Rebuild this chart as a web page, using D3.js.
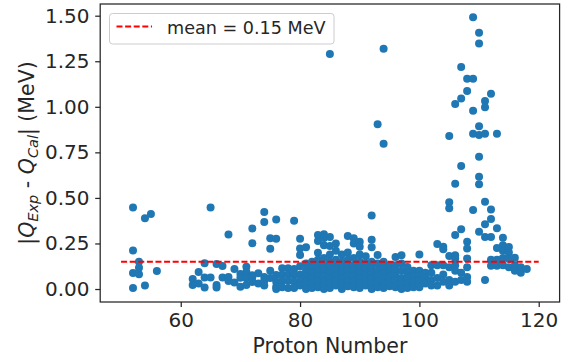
<!DOCTYPE html>
<html>
<head>
<meta charset="utf-8">
<script src="https://cdn.jsdelivr.net/npm/d3@7"></script>
<style>
  html, body { margin: 0; padding: 0; background: #ffffff; }
  svg { display: block; font-family: "DejaVu Sans", sans-serif; }
</style>
</head>
<body>
<svg id="chart" width="576" height="362"></svg>
<script>
// ---- data ----
const protonNumbers = [52,53,54,55,56,62,63,64,65,66,67,68,69,70,71,72,73,74,75,76,77,78,79,80,81,82,83,84,85,86,87,88,89,90,91,92,93,94,95,96,97,98,99,100,101,102,103,104,105,106,107,108,109,110,111,112,113,114,115,116,117,118];
const deviations = [
  [0.448, 0.212, 0.088, 0.005],
  [0.150, 0.117, 0.081],
  [0.388, 0.020],
  [0.412],
  [0.099],
  [0.055, 0.022],
  [0.093, 0.030],
  [0.142, 0.063, 0.008],
  [0.447, 0.063],
  [0.137, 0.022, 0.009],
  [0.127, 0.063],
  [0.299, 0.066, 0.044],
  [0.110, 0.036],
  [0.082, 0.062, 0.013],
  [0.122, 0.093, 0.059, 0.022],
  [0.332, 0.251, 0.075, 0.063, 0.038],
  [0.086, 0.030],
  [0.423, 0.368, 0.066, 0.045, 0.020],
  [0.278, 0.221, 0.100, 0.060],
  [0.382, 0.276, 0.077, 0.040, 0.013, 0.000],
  [0.114, 0.078, 0.045, 0.010],
  [0.114, 0.080, 0.045, 0.005],
  [0.375, 0.110, 0.075, 0.040, 0.005],
  [0.276, 0.222, 0.187, 0.125, 0.080, 0.045, 0.020],
  [0.229, 0.140, 0.100, 0.070, 0.040, 0.020, 0.000],
  [0.150, 0.120, 0.090, 0.060, 0.030, 0.005],
  [0.296, 0.263, 0.199, 0.160, 0.130, 0.100, 0.070, 0.040, 0.010],
  [0.300, 0.280, 0.240, 0.170, 0.130, 0.100, 0.070, 0.040, 0.020, 0.000],
  [1.290, 0.285, 0.236, 0.190, 0.150, 0.120, 0.090, 0.060, 0.030, 0.005],
  [0.250, 0.210, 0.160, 0.130, 0.100, 0.070, 0.045, 0.020],
  [0.190, 0.150, 0.120, 0.090, 0.060, 0.030, 0.000],
  [0.291, 0.200, 0.160, 0.130, 0.100, 0.070, 0.040, 0.015],
  [0.278, 0.250, 0.170, 0.130, 0.100, 0.070, 0.040, 0.010],
  [0.260, 0.232, 0.190, 0.150, 0.120, 0.090, 0.060, 0.030, 0.005],
  [0.180, 0.140, 0.110, 0.080, 0.050, 0.020],
  [0.403, 0.271, 0.229, 0.150, 0.120, 0.090, 0.060, 0.030, 0.000],
  [0.904, 0.187, 0.140, 0.100, 0.070, 0.040, 0.010],
  [1.319, 0.797, 0.150, 0.120, 0.090, 0.060, 0.030, 0.005],
  [0.130, 0.100, 0.070, 0.040, 0.015],
  [0.176, 0.130, 0.100, 0.070, 0.040, 0.010],
  [0.186, 0.140, 0.100, 0.060, 0.030, 0.000],
  [0.121, 0.090, 0.060, 0.030, 0.005],
  [0.100, 0.070, 0.040, 0.010],
  [0.190, 0.100, 0.070, 0.040, 0.010],
  [0.090, 0.060, 0.030],
  [0.130, 0.090, 0.050, 0.020],
  [0.247, 0.130, 0.060, 0.020],
  [0.232, 0.218, 0.130, 0.080, 0.040],
  [0.840, 0.476, 0.443, 0.181, 0.120, 0.050, 0.020],
  [1.015, 0.578, 0.296, 0.185, 0.168, 0.130, 0.100, 0.040],
  [1.218, 1.045, 0.675, 0.328, 0.090, 0.050],
  [1.154, 1.087, 0.260, 0.223, 0.168, 0.120, 0.066, 0.040],
  [1.491, 1.154, 0.979, 0.852, 0.434],
  [1.407, 1.348, 0.893, 0.845, 0.726, 0.616, 0.575, 0.315],
  [1.032, 0.997, 0.852, 0.479, 0.355, 0.285, 0.050],
  [1.072, 0.437, 0.384, 0.285, 0.160, 0.128],
  [0.852, 0.333, 0.225, 0.160, 0.128],
  [0.282, 0.240, 0.210, 0.170, 0.130],
  [0.230, 0.200, 0.165, 0.120],
  [0.172, 0.130, 0.100],
  [0.120, 0.090],
  [0.110]
];
const meanValue = 0.15;
const meanRange = [50, 120];
const xTicks = [60, 80, 100, 120];
const yTicks = [0, 0.25, 0.5, 0.75, 1.0, 1.25, 1.5];
const legendLabel = "mean = 0.15 MeV";
const xLabel = "Proton Number";

// ---- layout ----
const svg = d3.select("#chart");
const plot = { left: 100.2, right: 559.6, top: 4, bottom: 302 };
const ink = "#262626";
const blue = "#1f77b4";

const x = d3.scaleLinear().domain([46.5, 123.5]).range([plot.left, plot.right]);
const y = d3.scaleLinear().domain([-0.0712, 1.5642]).range([plot.bottom, plot.top]);

const points = protonNumbers.flatMap((z, i) => deviations[i].map(v => ({ z, v })));

// points
svg.append("g")
  .selectAll("circle")
  .data(points)
  .join("circle")
  .attr("cx", d => x(d.z))
  .attr("cy", d => y(d.v))
  .attr("r", 4)
  .attr("fill", blue);

// mean line
svg.append("line")
  .attr("x1", x(meanRange[0])).attr("x2", x(meanRange[1]))
  .attr("y1", y(meanValue)).attr("y2", y(meanValue))
  .attr("stroke", "#ff0000")
  .attr("stroke-width", 2)
  .attr("stroke-dasharray", "6,2.6");

// frame
svg.append("rect")
  .attr("x", plot.left).attr("y", plot.top)
  .attr("width", plot.right - plot.left).attr("height", plot.bottom - plot.top)
  .attr("fill", "none").attr("stroke", ink).attr("stroke-width", 1.25);

// x axis
const xAxis = svg.append("g")
  .attr("transform", `translate(0,${plot.bottom})`)
  .call(d3.axisBottom(x).tickValues(xTicks).tickSize(5).tickPadding(6).tickFormat(d3.format("d")));
xAxis.select(".domain").remove();
xAxis.selectAll("line").attr("stroke", ink).attr("stroke-width", 1.25);
xAxis.selectAll("text").attr("fill", ink).attr("font-size", 20).attr("font-family", "DejaVu Sans");

// y axis
const yAxis = svg.append("g")
  .attr("transform", `translate(${plot.left},0)`)
  .call(d3.axisLeft(y).tickValues(yTicks).tickSize(5).tickPadding(5.7).tickFormat(d3.format(".2f")));
yAxis.select(".domain").remove();
yAxis.selectAll("line").attr("stroke", ink).attr("stroke-width", 1.25);
yAxis.selectAll("text").attr("fill", ink).attr("font-size", 20).attr("font-family", "DejaVu Sans");

// x label
svg.append("text")
  .attr("x", (plot.left + plot.right) / 2).attr("y", 353)
  .attr("text-anchor", "middle")
  .attr("font-size", 20.5).attr("fill", ink)
  .text(xLabel);

// y label (mathtext-like)
const yl = svg.append("text")
  .attr("transform", `translate(34,${(plot.top + plot.bottom) / 2}) rotate(-90)`)
  .attr("text-anchor", "middle")
  .attr("font-size", 20.5).attr("fill", ink);
yl.append("tspan").text("|");
yl.append("tspan").attr("font-style", "italic").text("Q");
yl.append("tspan").attr("font-style", "italic").attr("font-size", 14.5).attr("dy", 4).text("Exp");
yl.append("tspan").attr("dy", -4).text(" - ");
yl.append("tspan").attr("font-style", "italic").text("Q");
yl.append("tspan").attr("font-style", "italic").attr("font-size", 14.5).attr("dy", 4).text("Cal");
yl.append("tspan").attr("dy", -4).text("| (MeV)");

// legend
const lg = svg.append("g");
lg.append("rect")
  .attr("x", 109.5).attr("y", 13.5).attr("width", 224.5).attr("height", 30.5)
  .attr("rx", 3).attr("fill", "#ffffff").attr("fill-opacity", 0.8)
  .attr("stroke", "#cccccc").attr("stroke-width", 1);
lg.append("line")
  .attr("x1", 116.5).attr("x2", 152).attr("y1", 26.5).attr("y2", 26.5)
  .attr("stroke", "#ff0000").attr("stroke-width", 2)
  .attr("stroke-dasharray", "6,2.6");
lg.append("text")
  .attr("x", 167).attr("y", 34.3)
  .attr("font-size", 17.6).attr("fill", ink)
  .text(legendLabel);
</script>
</body>
</html>
